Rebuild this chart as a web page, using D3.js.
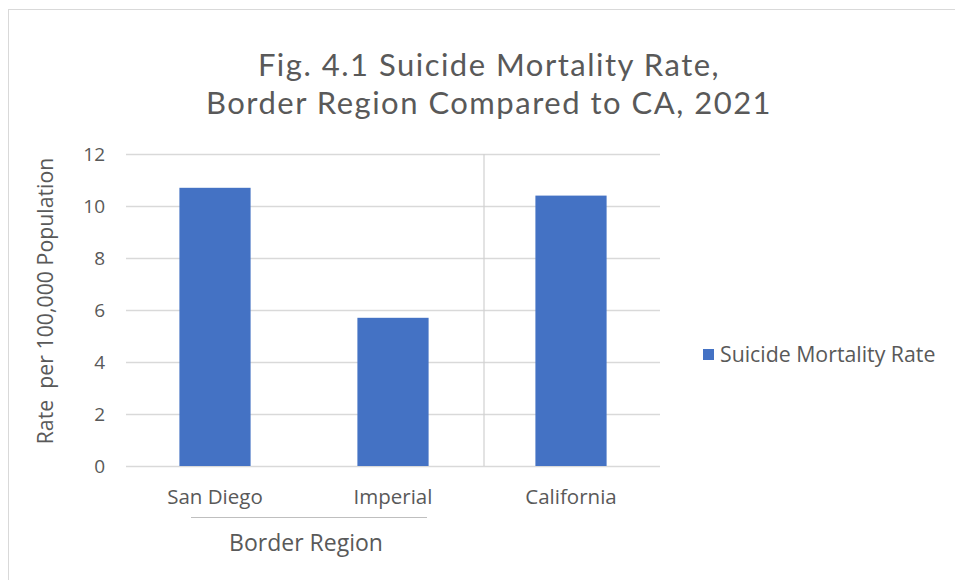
<!DOCTYPE html>
<html><head><meta charset="utf-8">
<script src="https://cdn.jsdelivr.net/npm/d3@7"></script>
<style>body{margin:0;background:#fff}svg{display:block}text{font-family:"Open Sans",sans-serif;fill:#595959}</style>
</head><body>
<svg id="c" width="955" height="580"></svg>
<script>
const categories = ["San Diego", "Imperial", "California"];
const values = [10.7, 5.7, 10.4];
const groupLabels = ["Border Region", ""];
const seriesName = "Suicide Mortality Rate";
const yTicks = [0, 2, 4, 6, 8, 10, 12];
const titleLines = ["Fig. 4.1 Suicide Mortality Rate,", "Border Region Compared to CA, 2021"];
const yTitle = "Rate  per 100,000 Population";

const svg = d3.select("#c");
svg.append("rect").attr("x", 8.5).attr("y", 9.5).attr("width", 960).attr("height", 600)
  .attr("fill", "#fff").attr("stroke", "#d9d9d9");

const L = 126, R = 660, T = 154, B = 466;
const x = d3.scaleBand().domain(categories).range([L, R]).paddingInner(0.6).paddingOuter(0.3);
const y = d3.scaleLinear().domain([0, 12]).range([B, T]);

// gridlines
svg.append("g").selectAll("line").data(yTicks).join("line")
  .attr("x1", L).attr("x2", R).attr("y1", d => y(d) + 0.5).attr("y2", d => y(d) + 0.5)
  .attr("stroke", "#d9d9d9").attr("stroke-width", 1.3);

// y labels
const yAxis = d3.axisLeft(y).tickValues(yTicks).tickSize(0).tickPadding(0);
const ga = svg.append("g").attr("transform", `translate(${L - 21},0)`).call(yAxis);
ga.select(".domain").remove();
ga.selectAll("text").attr("font-size", 19).attr("fill", "#595959").attr("font-family", "Open Sans").attr("text-anchor", "end");

// separator between groups
const sx = (x("Imperial") + x("California") + x.bandwidth()) / 2 + 2;
svg.append("line").attr("x1", sx).attr("x2", sx).attr("y1", T).attr("y2", B)
  .attr("stroke", "#d0d0d0").attr("stroke-width", 1.2);

// bars
svg.append("g").selectAll("rect").data(values).join("rect")
  .attr("x", (d, i) => x(categories[i])).attr("width", x.bandwidth())
  .attr("y", d => y(d)).attr("height", d => B - y(d)).attr("fill", "#4472c4");

// category labels
svg.append("g").selectAll("text").data(categories).join("text")
  .attr("x", d => x(d) + x.bandwidth() / 2).attr("y", 504)
  .attr("text-anchor", "middle").attr("font-size", 20.5).text(d => d);

// group line & label
const g1 = x("San Diego") + x.bandwidth() / 2, g2 = x("Imperial") + x.bandwidth() / 2;
svg.append("line").attr("x1", g1 - 24).attr("x2", g2 + 34).attr("y1", 517.5).attr("y2", 517.5)
  .attr("stroke", "#bfbfbf").attr("stroke-width", 1);
svg.append("text").attr("x", (g1 + g2) / 2 + 2).attr("y", 551).attr("text-anchor", "middle")
  .attr("font-size", 23).text(groupLabels[0]);

// title
svg.append("g").selectAll("text").data(titleLines).join("text")
  .attr("x", 489).attr("y", (d, i) => 76 + i * 38).attr("text-anchor", "middle")
  .style("font-family", "Lato, 'Open Sans', sans-serif").style("letter-spacing", "1.5px")
  .attr("font-size", 31).text(d => d);

// y title
svg.append("text").attr("transform", `translate(53,301) rotate(-90)`).attr("text-anchor", "middle")
  .attr("font-size", 21.3).attr("xml:space", "preserve").style("white-space", "pre").text(yTitle);

// legend
svg.append("rect").attr("x", 703).attr("y", 349).attr("width", 11).attr("height", 11).attr("fill", "#4472c4");
svg.append("text").attr("x", 720).attr("y", 362).attr("font-size", 21.3).text(seriesName);
</script>
</body></html>
